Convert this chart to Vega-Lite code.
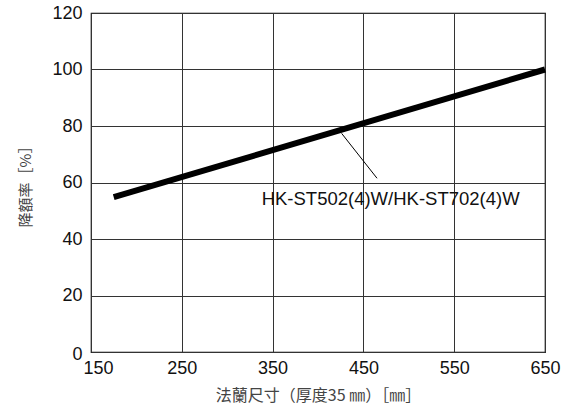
{
  "$schema": "https://vega.github.io/schema/vega-lite/v6.json",
  "autosize": "none",
  "width": 454,
  "height": 339,
  "padding": {"left": 91, "top": 13, "right": 28, "bottom": 59},
  "background": "white",
  "config": {
    "view": {"stroke": "black", "strokeWidth": 1.2},
    "axis": {
      "labelFont": "Liberation Sans",
      "labelFontSize": 18,
      "labelColor": "#111",
      "titleFont": "Noto Sans CJK TC",
      "titleFontWeight": "normal",
      "titleFontSize": 16,
      "titleColor": "#444",
      "gridColor": "#333",
      "gridOpacity": 1,
      "gridWidth": 1,
      "domain": false,
      "ticks": false
    }
  },
  "datasets": {
    "curve": [{"size": 175, "rate": 54.8}, {"size": 650, "rate": 100}],
    "leader": [{"size": 426, "rate": 77.4}, {"size": 465, "rate": 61.5}],
    "label": [{"size": 480, "rate": 54.2, "text": "HK-ST502(4)W/HK-ST702(4)W"}]
  },
  "layer": [
    {
      "data": {"name": "curve"},
      "mark": {"type": "line", "color": "black", "strokeWidth": 6},
      "encoding": {
        "x": {
          "field": "size", "type": "quantitative",
          "scale": {"domain": [150, 650], "nice": false, "zero": false},
          "axis": {
            "values": [150, 250, 350, 450, 550, 650],
            "labelFlush": false,
            "labelPadding": 7,
            "labelOffset": {"expr": "datum.value == 150 ? 7 : 0"},
            "title": "法蘭尺寸（厚度35 ㎜）［㎜］",
            "titlePadding": 10
          }
        },
        "y": {
          "field": "rate", "type": "quantitative",
          "scale": {"domain": [0, 120], "nice": false},
          "axis": {
            "values": [0, 20, 40, 60, 80, 100, 120],
            "labelPadding": 9,
            "labelOffset": {"expr": "datum.value == 0 ? 2 : 0"},
            "title": "降額率［%］",
            "titleFontSize": 15,
            "titlePadding": 18
          }
        }
      }
    },
    {
      "data": {"name": "leader"},
      "mark": {"type": "line", "color": "black", "strokeWidth": 1},
      "encoding": {
        "x": {"field": "size", "type": "quantitative"},
        "y": {"field": "rate", "type": "quantitative"}
      }
    },
    {
      "data": {"name": "label"},
      "mark": {"type": "text", "font": "Liberation Sans", "fontSize": 18.5, "color": "#111", "align": "center", "baseline": "middle"},
      "encoding": {
        "x": {"field": "size", "type": "quantitative"},
        "y": {"field": "rate", "type": "quantitative"},
        "text": {"field": "text"}
      }
    }
  ]
}
